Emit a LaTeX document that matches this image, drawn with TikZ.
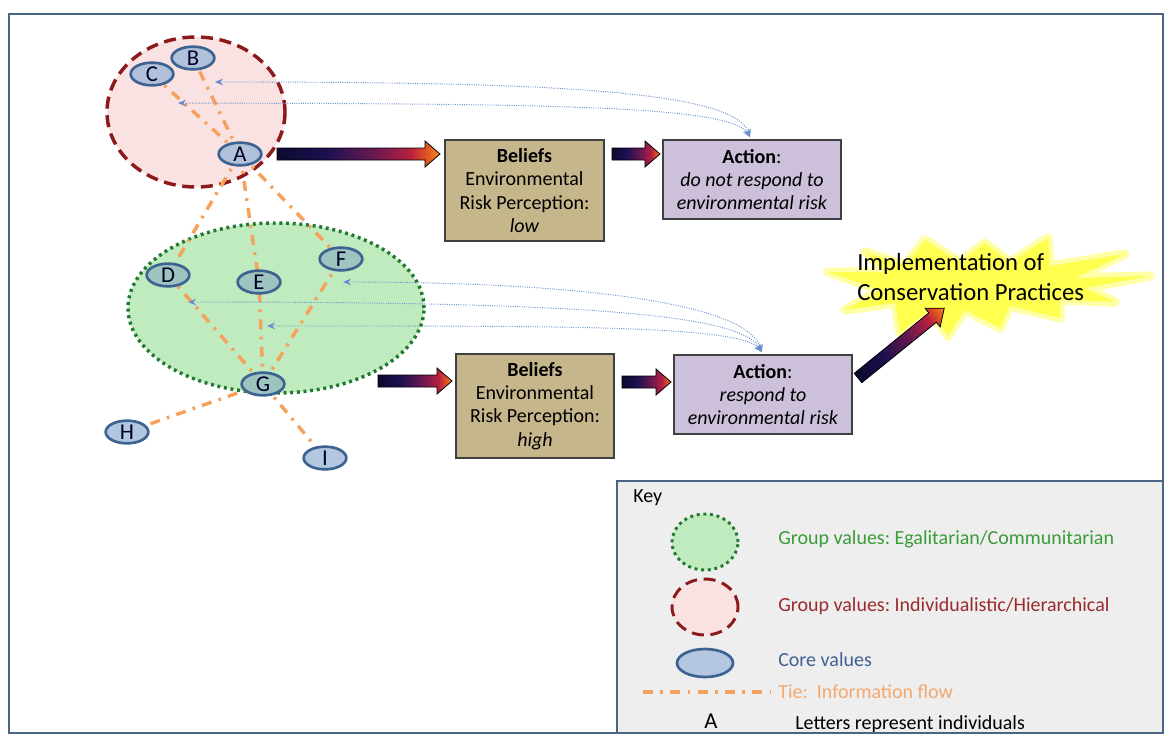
\documentclass[tikz,border=0pt]{standalone}
\usepackage{fontspec}
\setmainfont{Carlito}
\usetikzlibrary{arrows.meta,calc,shapes.geometric,shadings}
\frenchspacing

\definecolor{frameblue}{HTML}{4A6583}
\definecolor{keyfill}{HTML}{EEEEEE}
\definecolor{hierfill}{HTML}{FAE2E2}
\definecolor{hierline}{HTML}{8C1A1A}
\definecolor{egalfill}{HTML}{BFEBBF}
\definecolor{egalline}{HTML}{1F7A30}
\definecolor{corefill}{HTML}{B4C7E0}
\definecolor{corepink}{HTML}{B2C1DA}
\definecolor{coregreen}{HTML}{9EC4C0}
\definecolor{coreline}{HTML}{3C6391}
\definecolor{tiecol}{HTML}{F5A25C}
\definecolor{flowcol}{HTML}{6890D0}
\definecolor{beliefcol}{HTML}{C6B68C}
\definecolor{actioncol}{HTML}{CCC0DA}
\definecolor{arrA}{HTML}{0A0A30}
\definecolor{arrM}{HTML}{1C1050}
\definecolor{arrB}{HTML}{6A1850}
\definecolor{arrR}{HTML}{B82040}
\definecolor{arrO}{HTML}{E05522}
\definecolor{arrC}{HTML}{F58A1E}
\definecolor{burstcol}{HTML}{FFFF50}
\definecolor{burstglow}{HTML}{FFFFA8}
\definecolor{txtegal}{HTML}{3A9B3A}
\definecolor{txthier}{HTML}{9B2C2C}
\definecolor{txtcore}{HTML}{3F6291}
\definecolor{txttie}{HTML}{F4A86E}

% navy -> magenta -> red -> orange along the arrow
\pgfdeclarehorizontalshading{arrowgrad}{100bp}{%
  color(0bp)=(arrA); color(25bp)=(arrA); color(40bp)=(arrM); color(55bp)=(arrB);
  color(66bp)=(arrR); color(71bp)=(arrO); color(75bp)=(arrC); color(100bp)=(arrC)}

% block arrow with the gradient, drawn along its own axis
% #1 start point, #2 angle, #3 length, #4 half shaft, #5 half head
\newcommand\gradarrow[5]{%
  \begin{scope}[transform canvas={shift={(#1)},rotate=#2}]
    \shade[draw=black, line width=0.6pt, shading=arrowgrad, shading angle=0]
      (0,-#4) -- (#3-15,-#4) -- (#3-15,-#5) -- (#3,0) -- (#3-15,#5) -- (#3-15,#4) -- (0,#4) -- cycle;
  \end{scope}}

\begin{document}
\begin{tikzpicture}[x=0.75pt,y=-0.75pt,
  hier/.style={ellipse, draw=hierline, fill=hierfill, line width=2.6pt, dash pattern=on 9pt off 5pt, inner sep=0pt},
  egal/.style={ellipse, draw=egalline, fill=egalfill, line width=2.6pt, dash pattern=on 2.2pt off 2.8pt, inner sep=0pt},
  core/.style={ellipse, draw=coreline, fill=corefill, line width=2pt, minimum width=32pt, minimum height=17pt,
    inner sep=0pt, text=black!85!blue, font=\fontsize{17}{17}\selectfont},
  tie/.style={draw=tiecol, line width=2.6pt, dash pattern=on 7.5pt off 5.5pt on 2pt off 5.5pt},
  flow/.style={draw=flowcol, line width=0.7pt, densely dotted, {Stealth[length=6pt,width=5pt]}-{Stealth[length=6pt,width=5pt]}},
  boxtext/.style={align=center, font=\fontsize{15}{17.5}\selectfont, inner sep=0pt},
  beliefbox/.style={boxtext, draw=black!75, fill=beliefcol, line width=1.1pt},
  actionbox/.style={boxtext, draw=black!75, fill=actioncol, line width=1.1pt},
  keytext/.style={anchor=west, font=\fontsize{15}{15}\selectfont, inner sep=0pt}
]
\useasboundingbox (0,0) rectangle (1167,736);
\fill[white] (0,0) rectangle (1167,736);

% value groups
\node[hier, minimum width=133.5pt, minimum height=112.5pt] (hiergrp) at (196,112) {};
\node[egal, minimum width=222pt, minimum height=127.5pt] (egalgrp) at (276,308) {};

% individuals
\coordinate (pA) at (240,154);
\coordinate (pB) at (193,58);
\coordinate (pC) at (152,74);
\coordinate (pD) at (168,275);
\coordinate (pE) at (259,282);
\coordinate (pF) at (341,259);
\coordinate (pG) at (263,384);
\coordinate (pH) at (127,432);
\coordinate (pI) at (325,458);

% ties between individuals
\draw[tie] (pA) -- (pB);
\draw[tie] (pA) -- (pC);
\draw[tie] (pA) -- (pD);
\draw[tie] (pA) -- (pE);
\draw[tie] (pA) -- (pF);
\draw[tie] (pG) -- (pD);
\draw[tie] (pG) -- (pE);
\draw[tie] (pG) -- (pF);
\draw[tie] (pG) -- (pH);
\draw[tie] (pG) -- (pI);

\node[core, fill=corepink] (A) at (pA) {A};
\node[core, fill=corepink] (B) at (pB) {B};
\node[core, fill=corepink] (C) at (pC) {C};
\node[core, fill=coregreen] (D) at (pD) {D};
\node[core, fill=coregreen] (E) at (pE) {E};
\node[core, fill=coregreen] (F) at (pF) {F};
\node[core, fill=coregreen] (G) at (pG) {G};
\node[core] (H) at (pH) {H};
\node[core] (I) at (pI) {I};

% beliefs and actions
\node[beliefbox, minimum width=119.25pt, minimum height=75.75pt] (bel1) at (524.5,190.5)
  {\textbf{Beliefs}\\Environmental\\Risk Perception:\\\textit{low}};
\node[actionbox, minimum width=133.5pt, minimum height=59.25pt] (act1) at (752,179.5)
  {\textbf{Action}:\\\textit{do not respond to}\\\textit{environmental risk}};
\node[beliefbox, minimum width=118.5pt, minimum height=78pt] (bel2) at (535,406)
  {\textbf{Beliefs}\\Environmental\\Risk Perception:\\\textit{high}};
\node[actionbox, minimum width=133.5pt, minimum height=59.25pt] (act2) at (763,394.5)
  {\textbf{Action}:\\\textit{respond to}\\\textit{environmental risk}};

% feedback from actions back to individuals
\coordinate (fb1) at (215,82);
\coordinate (fb2) at (178,103);
\coordinate (fb3) at (343,282);
\coordinate (fb4) at (188,302);
\coordinate (fb5) at (267,326);
\coordinate (t1) at ($(act1.north)+(-2,-2)$);
\coordinate (t2) at ($(act2.north)+(-1,-2)$);
\draw[flow] (fb1) .. controls (520,82) and (735,88) .. (t1);
\draw[flow] (fb2) .. controls (520,104) and (730,104) .. (t1);
\draw[flow] (fb3) .. controls (560,282) and (745,300) .. (t2);
\draw[flow] (fb4) .. controls (560,302) and (740,312) .. (t2);
\draw[flow] (fb5) .. controls (560,326) and (740,325) .. (t2);

% implementation burst
\path[draw=burstglow, line width=7pt, line join=round, fill=burstglow]
  (1150,276) -- (1075,278) -- (1125,254) -- (1050,266) -- (1048,238) -- (1010,262) -- (985,243)
  -- (960,262) -- (925,240) -- (905,265) -- (865,252) -- (885,272) -- (828,272) -- (880,290)
  -- (845,310) -- (895,303) -- (900,333) -- (930,310) -- (948,336) -- (965,310) -- (1000,328)
  -- (1010,306) -- (1060,318) -- (1060,300) -- (1115,302) -- (1085,288) -- cycle;
\fill[burstcol]
  (1150,276) -- (1075,278) -- (1125,254) -- (1050,266) -- (1048,238) -- (1010,262) -- (985,243)
  -- (960,262) -- (925,240) -- (905,265) -- (865,252) -- (885,272) -- (828,272) -- (880,290)
  -- (845,310) -- (895,303) -- (900,333) -- (930,310) -- (948,336) -- (965,310) -- (1000,328)
  -- (1010,306) -- (1060,318) -- (1060,300) -- (1115,302) -- (1085,288) -- cycle;
\node[anchor=west, align=left, inner sep=0pt, font=\fontsize{18.5}{22.5}\selectfont] (impl) at (857,277)
  {Implementation of\\Conservation Practices};

% block arrows
\coordinate (ar1) at (277,154);
\coordinate (ar2) at (612,154);
\coordinate (ar3) at (378,381);
\coordinate (ar4) at (622,382);
\coordinate (ar5) at (858,378);
\gradarrow{ar1}{0}{163}{6}{13}
\gradarrow{ar2}{0}{48}{6}{13}
\gradarrow{ar3}{0}{74}{6}{13}
\gradarrow{ar4}{0}{49}{6}{13}
\gradarrow{ar5}{39}{111}{6}{12}

% key
\node[draw=frameblue, fill=keyfill, line width=2pt, minimum width=409.5pt, minimum height=189pt, inner sep=0pt]
  (keybox) at (890,607) {};
\node[keytext] (keyttl) at (633,498) {Key};
\node[egal, line width=2.2pt, minimum width=49.5pt, minimum height=42pt] (kegal) at (705,542) {};
\node[keytext, text=txtegal] (legal) at (778,539) {Group values: Egalitarian/Communitarian};
\node[hier, line width=2.2pt, minimum width=49.5pt, minimum height=42pt] (khier) at (705,607) {};
\node[keytext, text=txthier] (lhier) at (778,606) {Group values: Individualistic/Hierarchical};
\node[core, minimum width=42pt, minimum height=21pt] (kcore) at (705,663) {};
\node[keytext, text=txtcore] (lcore) at (778,660) {Core values};
\coordinate (kt1) at (643,692);
\coordinate (kt2) at (770,692);
\draw[tie] (kt1) -- (kt2);
\node[keytext, text=txttie] (ltie) at (778,692) {Tie:\ \ Information flow};
\node[font=\fontsize{17}{17}\selectfont, inner sep=0pt] (kA) at (711,721) {A};
\node[keytext] (lA) at (795,724) {Letters represent individuals};

% outer frame
\draw[frameblue, line width=2.2pt] (9,14) rectangle (1163,733);
\end{tikzpicture}
\end{document}
